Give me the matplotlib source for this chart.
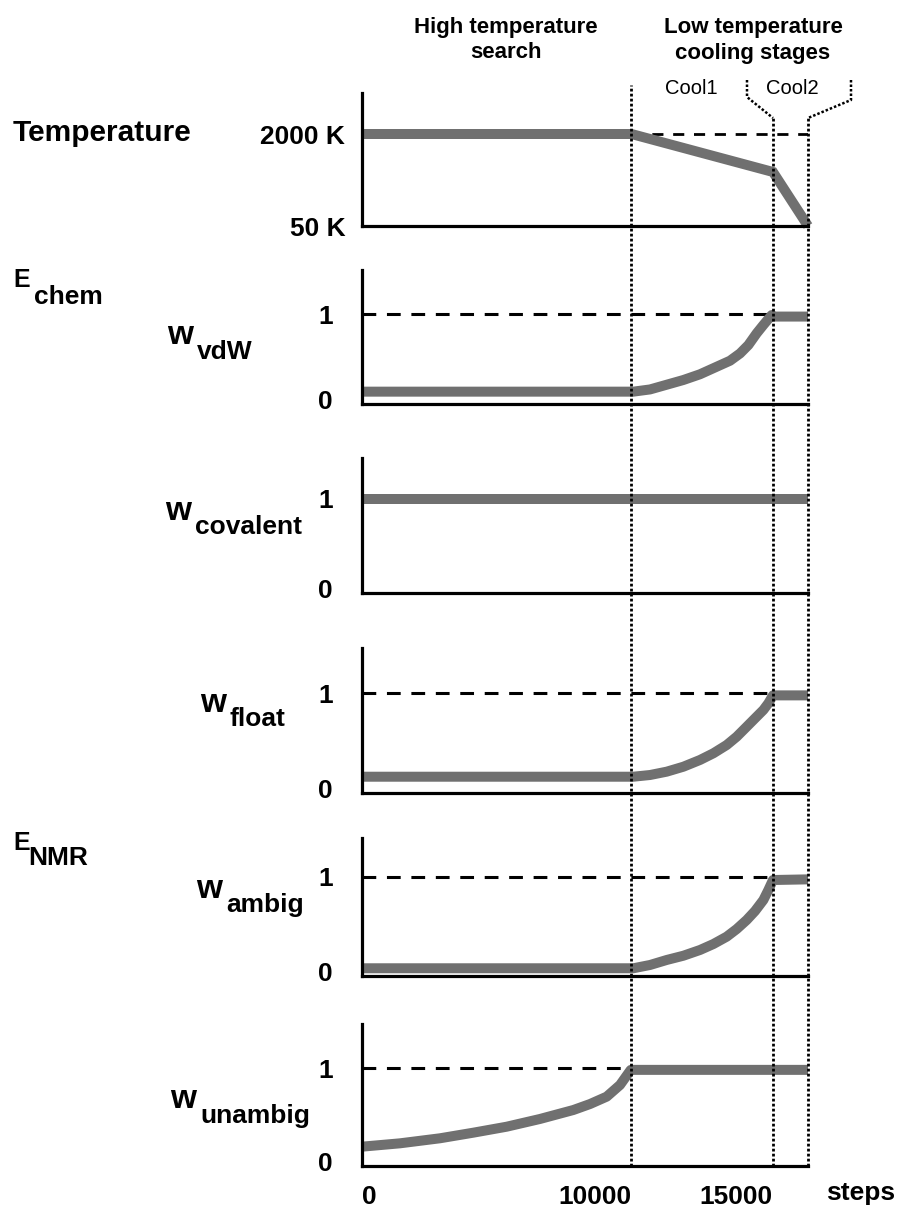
import matplotlib
matplotlib.use("Agg")
import matplotlib.pyplot as plt
from matplotlib.transforms import Affine2D
from matplotlib.lines import Line2D

plt.rcParams['font.family'] = ['Liberation Sans', 'DejaVu Sans']

stage_edges = [0, 10000, 15250, 16550]          # high T search | cool1 | cool2 end
xtick_labels = ["0", "10000", "15000"]

temp_steps = [0, 10000, 15250, 16550]
temp_kelvin = [2000, 2000, 1195, 50]

vdw_steps = [0, 10070, 10690, 11925, 12543, 13163, 13657, 14028, 14337, 14646, 14894, 15203, 15250, 16550]
vdw_w = [0.094, 0.094, 0.12, 0.23, 0.297, 0.385, 0.455, 0.54, 0.638, 0.775, 0.872, 0.988, 0.97, 0.97]

cov_steps = [0, 16550]
cov_w = [1.0, 1.0]

float_steps = [0, 10070, 10690, 11307, 11925, 12543, 13038, 13533, 13904, 14275, 14584, 14894, 15079, 15250, 16550]
float_w = [0.121, 0.121, 0.139, 0.174, 0.226, 0.297, 0.367, 0.454, 0.541, 0.646, 0.734, 0.822, 0.892, 0.975, 0.975]

ambig_steps = [0, 10070, 10690, 11307, 11925, 12543, 13038, 13533, 13904, 14275, 14584, 14894, 15079, 15250, 16550]
ambig_w = [0.032, 0.032, 0.067, 0.12, 0.165, 0.226, 0.289, 0.367, 0.448, 0.544, 0.639, 0.756, 0.862, 0.968, 0.975]

unambig_steps = [0, 1410, 2895, 4131, 5368, 6606, 7843, 8461, 9080, 9574, 9971, 10000, 16550]
unambig_w = [0.157, 0.193, 0.247, 0.307, 0.371, 0.454, 0.55, 0.614, 0.693, 0.818, 0.979, 0.98, 0.98]

W, H = 901, 1220
fig = plt.figure(figsize=(W / 100, H / 100), dpi=100)
pix = Affine2D().scale(1 / W, -1 / H).translate(0, 1) + fig.transFigure

X0, X1 = 362, 808
CURVE = '#707070'
DOTS = (0, (1, 0.8))


def make_axes(top, bottom):
    ax = fig.add_axes([X0 / W, 1 - bottom / H, (X1 - X0) / W, (bottom - top) / H])
    ax.set_xlim(stage_edges[0], stage_edges[-1])
    for s in ('top', 'right'):
        ax.spines[s].set_visible(False)
    for s in ('left', 'bottom'):
        ax.spines[s].set_linewidth(2.3)
        ax.spines[s].set_color('black')
    ax.tick_params(length=0)
    ax.set_xticks([])
    ax.patch.set_alpha(0)
    return ax


def label(x, y, s, size=19, ha='left', weight='bold'):
    fig.text(x, y, s, transform=pix, fontsize=size, ha=ha, va='center', fontweight=weight)


# temperature panel
ax = make_axes(93, 226)
ax.set_ylim(50, 50 + (226 - 93) * 1950 / (226 - 134))
ax.hlines(2000, stage_edges[1], stage_edges[-1], colors='black', lw=2, linestyles=(0, (4, 3.5)))
ax.plot(temp_steps, temp_kelvin, color=CURVE, lw=7.2, solid_capstyle='butt', solid_joinstyle='miter', clip_on=False)
ax.set_yticks([50, 2000])
ax.set_yticklabels(["50 K", "2000 K"], fontsize=19, fontweight='bold')
ax.tick_params(axis='y', pad=12)

# weight panels: (top px, bottom px, px of value 1, steps, values, dashed?)
panels = [
    (270, 404, 314, vdw_steps, vdw_w, True),
    (458, 593, 499, cov_steps, cov_w, False),
    (648, 793, 693, float_steps, float_w, True),
    (838, 976, 877, ambig_steps, ambig_w, True),
    (1024, 1166, 1068, unambig_steps, unambig_w, True),
]
axes = []
for top, bottom, one, xs, ys, dashed in panels:
    ax = make_axes(top, bottom)
    ax.set_ylim(-0.05, -0.05 + (bottom - top) / (bottom - one) * 1.05)
    if dashed:
        ax.axhline(1, color='black', lw=2.2, linestyle=(0, (4.5, 3.5)))
    ax.plot(xs, ys, color=CURVE, lw=7.2, solid_capstyle='butt', solid_joinstyle='round', clip_on=False)
    ax.set_yticks([0, 1])
    ax.set_yticklabels(["0", "1"], fontsize=19, fontweight='bold')
    ax.tick_params(axis='y', pad=21)
    axes.append(ax)

# x axis labels on the last panel
ax = axes[-1]
ax.set_xticks(stage_edges[:3])
ax.set_xticklabels(xtick_labels, fontsize=19, fontweight='bold')
ax.tick_params(axis='x', pad=14)
for t, h in zip(ax.get_xticklabels(), ['left', 'right', 'right']):
    t.set_ha(h)
label(826, 1193, "steps")

# vertical dotted stage boundaries through all panels
ov = fig.add_axes([X0 / W, 1 - 1166 / H, (X1 - X0) / W, (1166 - 85) / H])
ov.set_xlim(stage_edges[0], stage_edges[-1])
ov.set_ylim(1166, 85)
ov.axis('off')
ov.vlines(stage_edges[1], 1166, 85, colors='black', lw=2.0, linestyles=DOTS, clip_on=False)
ov.vlines(stage_edges[2:], 1166, 118, colors='black', lw=2.0, linestyles=DOTS, clip_on=False)

# cooling stage brackets
for xs, ys in [([747, 747, 773], [80, 97, 118]), ([851, 851, 808], [80, 100, 118])]:
    fig.add_artist(Line2D(xs, ys, transform=pix, color='black', lw=1.8, linestyle=DOTS))

# headers
label(506, 27, "High temperature", size=16, ha='center')
label(506, 53, "search", size=16, ha='center')
label(753, 28, "Low temperature", size=16, ha='center')
label(753, 54, "cooling stages", size=16, ha='center')
label(691, 88, "Cool1", size=14.5, ha='center', weight='normal')
label(792, 88, "Cool2", size=14.5, ha='center', weight='normal')

# left-hand labels
label(13, 133, "Temperature", size=21.5)
label(13, 280, "E", size=18)
label(34, 297, "chem", size=19)
label(13, 843, "E", size=18)
label(28, 858, "NMR", size=19)

for x, y, sub in [(167, 336, "vdW"), (165, 511, "covalent"), (200, 703, "float"),
                  (196, 889, "ambig"), (170, 1100, "unambig")]:
    label(x, y, "w", size=24)
    label(x + 30, y + 16, sub, size=19)

fig.savefig("out.png", dpi=100)
